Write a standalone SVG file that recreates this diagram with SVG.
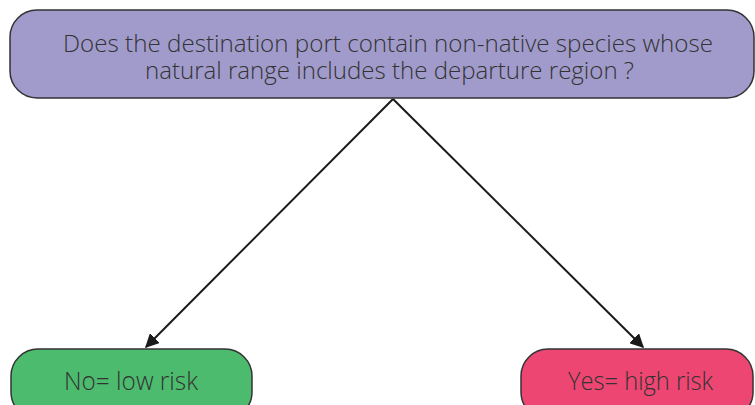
<svg xmlns="http://www.w3.org/2000/svg" width="755" height="405" viewBox="0 0 755 405">
<defs>
<style>
.node{stroke:#333;stroke-width:1.5}
.t{font-family:"Open Sans","Liberation Sans",sans-serif;font-size:25.5px;fill:#333;text-anchor:middle;font-weight:300}
.q{font-size:24.5px}
.edge{stroke:#1a1a1a;stroke-width:2;fill:none}
</style>
<marker id="ah" viewBox="0 0 10 10" refX="9" refY="5" markerWidth="7" markerHeight="7" markerUnits="strokeWidth" orient="auto">
<path d="M0,0 L10,5 L0,10 z" fill="#1a1a1a"/>
</marker>
</defs>
<g id="edges">
<line class="edge" x1="393" y1="99" x2="146" y2="347" marker-end="url(#ah)"/>
<line class="edge" x1="393" y1="99" x2="643" y2="347" marker-end="url(#ah)"/>
</g>
<g id="question">
<rect class="node" x="10" y="10" width="744" height="88" rx="27" fill="#A09BCB"/>
<text class="t q" x="388" y="52" textLength="650" lengthAdjust="spacingAndGlyphs">Does the destination port contain non-native species whose</text>
<text class="t q" x="389.5" y="78.5" textLength="489" lengthAdjust="spacingAndGlyphs">natural range includes the departure region ?</text>
</g>
<g id="no">
<rect class="node" x="11" y="349" width="241" height="70" rx="27" fill="#4CBB6E"/>
<text class="t" x="131" y="390" textLength="134" lengthAdjust="spacingAndGlyphs">No= low risk</text>
</g>
<g id="yes">
<rect class="node" x="521" y="349" width="232" height="70" rx="27" fill="#EE4672"/>
<text class="t" x="640.5" y="390" textLength="145" lengthAdjust="spacingAndGlyphs">Yes= high risk</text>
</g>
</svg>
